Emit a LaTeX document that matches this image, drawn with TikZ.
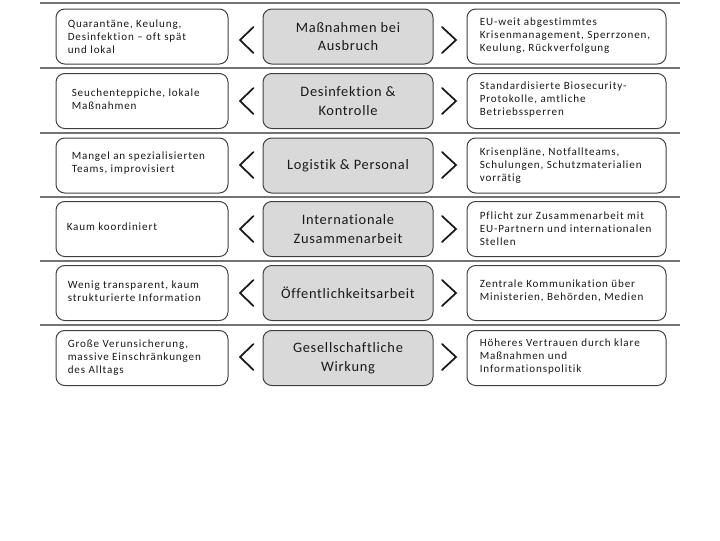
\documentclass[tikz,border=0pt]{standalone}
\usepackage{fontspec}
\setmainfont{Carlito}
\newfontfamily\smfont[LetterSpace=8,Ligatures=NoCommon]{Carlito}
\newfontfamily\bgfont[LetterSpace=5,Ligatures=NoCommon]{Carlito}
\begin{document}
\begin{tikzpicture}[x=0.75pt,y=-0.75pt]
\tikzset{
  box/.style={draw=black!75, line width=0.75pt, rounded corners=6.5pt, minimum height=41.25pt, inner sep=0pt},
  lbox/.style={box, fill=white, minimum width=129pt},
  mbox/.style={box, fill=black!15, minimum width=127.5pt, align=center, font=\bgfont\fontsize{10.8pt}{13.9pt}\selectfont, text=black!90},
  rbox/.style={box, fill=white, minimum width=149.25pt},
  stext/.style={anchor=west, align=left, inner sep=0pt, font=\smfont\fontsize{8.3pt}{9.75pt}\selectfont, text=black!90},
  sep/.style={draw=black!55, line width=1.1pt},
  chev/.style={draw=black!90, line width=1.3pt, line cap=round, line join=miter}
}
\useasboundingbox (0,0) rectangle (720,540);
% separators
\foreach \y/\n in {3/s1,68/s2,133/s3,197/s4,261/s5,325/s6}{
  \coordinate (\n a) at (39.5,\y);
  \coordinate (\n b) at (680,\y);
  \draw[sep] (\n a) -- (\n b);
}
% row 1
\node[lbox] (l1) at (142,36.5) {};
\node[mbox] (m1) at (348,36.5) {Maßnahmen bei\\Ausbruch};
\node[rbox] (r1) at (566.5,36.5) {};
\node[stext] (lt1) at ([xshift=9pt]l1.west) {Quarantäne, Keulung,\\Desinfektion – oft spät\\und lokal};
\node[stext] (rt1) at ([xshift=9.75pt,yshift=0.5pt]r1.west) {EU-weit abgestimmtes\\Krisenmanagement, Sperrzonen,\\Keulung, Rückverfolgung};
% row 2
\node[lbox] (l2) at (142,101) {};
\node[mbox] (m2) at (348,101) {Desinfektion \&\\Kontrolle};
\node[rbox] (r2) at (566.5,101) {};
\node[stext] (lt2) at ([xshift=12pt,yshift=1.5pt]l2.west) {Seuchenteppiche, lokale\\Maßnahmen};
\node[stext] (rt2) at ([xshift=9.75pt,yshift=1pt]r2.west) {Standardisierte Biosecurity-\\Protokolle, amtliche\\Betriebssperren};
% row 3
\node[lbox] (l3) at (142,165.5) {};
\node[mbox] (m3) at (348,165.5) {Logistik \& Personal};
\node[rbox] (r3) at (566.5,165.5) {};
\node[stext] (lt3) at ([xshift=12pt,yshift=1.5pt]l3.west) {Mangel an spezialisierten\\Teams, improvisiert};
\node[stext] (rt3) at ([xshift=9.75pt]r3.west) {Krisenpläne, Notfallteams,\\Schulungen, Schutzmaterialien\\vorrätig};
% row 4
\node[lbox] (l4) at (142,229) {};
\node[mbox] (m4) at (348,229) {Internationale\\Zusammenarbeit};
\node[rbox] (r4) at (566.5,229) {};
\node[stext] (lt4) at ([xshift=8.25pt,yshift=2pt]l4.west) {Kaum koordiniert};
\node[stext] (rt4) at ([xshift=9.75pt]r4.west) {Pflicht zur Zusammenarbeit mit\\EU-Partnern und internationalen\\Stellen};
% row 5
\node[lbox] (l5) at (142,293) {};
\node[mbox] (m5) at (348,293) {Öffentlichkeitsarbeit};
\node[rbox] (r5) at (566.5,293) {};
\node[stext] (lt5) at ([xshift=9pt,yshift=1.5pt]l5.west) {Wenig transparent, kaum\\strukturierte Information};
\node[stext] (rt5) at ([xshift=9.75pt,yshift=1.5pt]r5.west) {Zentrale Kommunikation über\\Ministerien, Behörden, Medien};
% row 6
\node[lbox] (l6) at (142,358) {};
\node[mbox] (m6) at (348,358) {Gesellschaftliche\\Wirkung};
\node[rbox] (r6) at (566.5,358) {};
\node[stext] (lt6) at ([xshift=9pt]l6.west) {Große Verunsicherung,\\massive Einschränkungen\\des Alltags};
\node[stext] (rt6) at ([xshift=9.75pt,yshift=1pt]r6.west) {Höheres Vertrauen durch klare\\Maßnahmen und\\Informationspolitik};
% chevrons
\foreach \c in {40,101,165,229,293,357}{
  \draw[chev] (253.5,\c-13) -- (240,\c) -- (253.5,\c+13);
  \draw[chev] (442,\c-13) -- (456,\c) -- (442,\c+13);
}
\end{tikzpicture}
\end{document}
